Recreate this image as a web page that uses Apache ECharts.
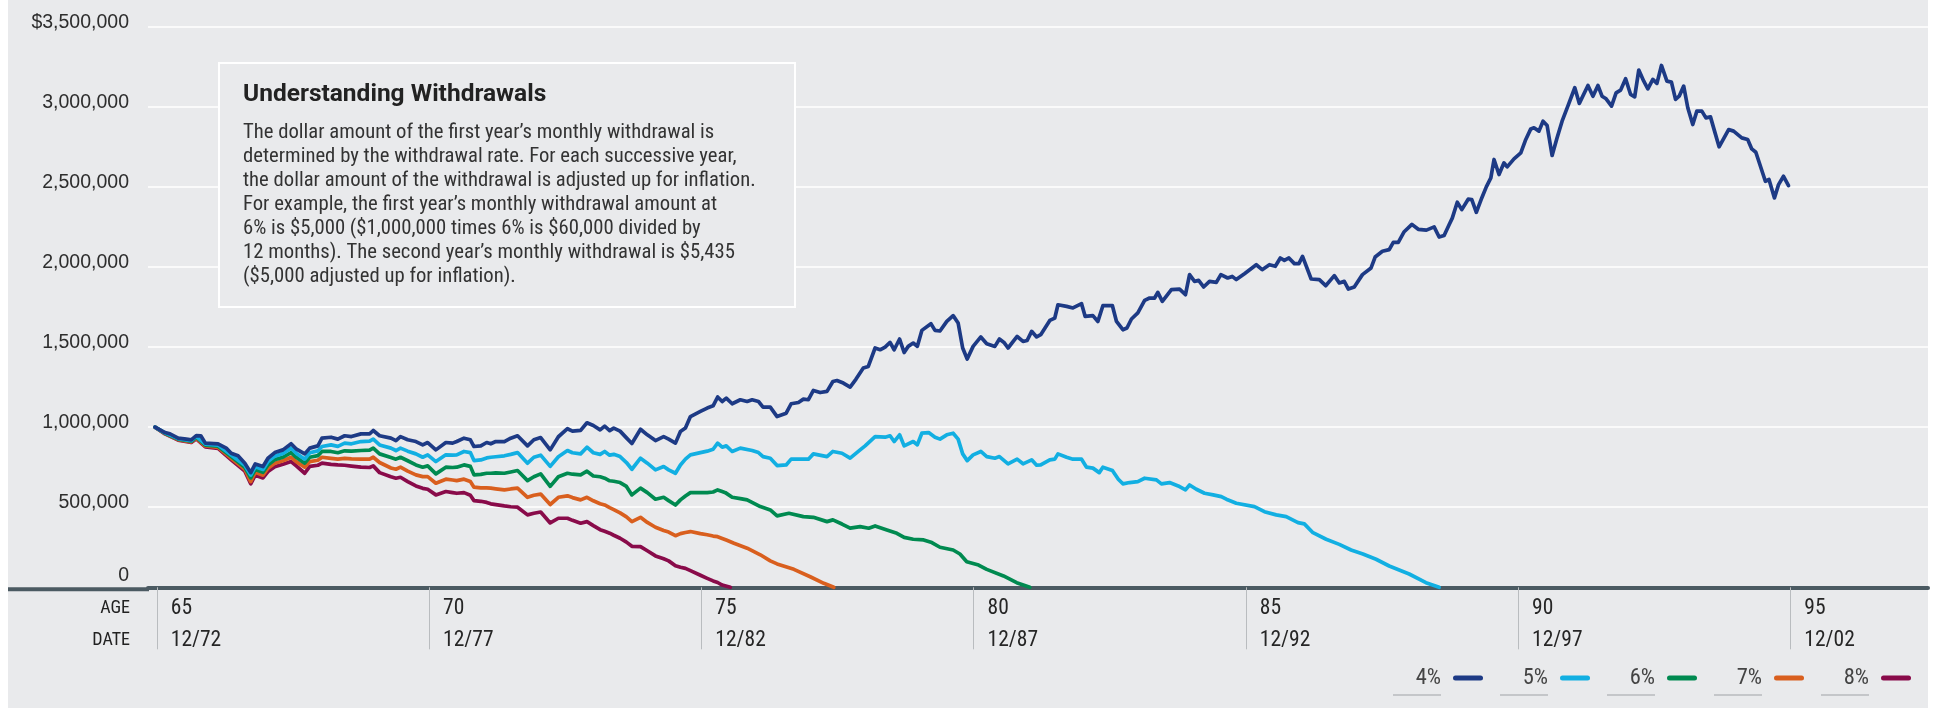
<!DOCTYPE html>
<html>
<head>
<meta charset="utf-8">
<script src="https://cdn.jsdelivr.net/npm/echarts@6.0.0/dist/echarts.min.js"></script>
<style>
html, body { margin: 0; padding: 0; background: #fff; }
#chart {
  width: 1933px; height: 708px;
  background: linear-gradient(to right, #fff 0, #fff 8px, #e9eaec 8px, #e9eaec 1928px, #fff 1928px);
}
</style>
</head>
<body>
<div id="chart"></div>
<script>
// withdrawal rates, drawn 4% .. 8%
const rates = ['4%', '5%', '6%', '7%', '8%'];
const rateColors = ['#1d3a85', '#12afe2', '#008a50', '#d95f1e', '#890b4a'];

// x = months after 12/72, value = portfolio in $ thousands
const s4 = [[0,1000],[2.2,966],[3.3,958],[5.1,931],[6.9,925],[8,920],[9.1,947],[10.1,946],[11.1,900],[13.9,896],[15.7,869],[16.8,837],[18.3,821],[19.8,775],[21.1,716],[22.1,770],[23.8,754],[24.9,806],[26.4,841],[28.2,858],[30,896],[31.2,862],[33,833],[34.1,869],[35.9,883],[36.8,931],[38.8,937],[40.3,925],[41.8,946],[43.3,941],[45.4,958],[47.3,958],[48.1,979],[49.5,946],[52,931],[53.1,916],[54.1,941],[55.7,921],[57.5,910],[59,889],[60.1,904],[61.9,858],[64.1,904],[65.6,900],[66.5,910],[68.1,931],[69.5,921],[70.3,879],[71.8,883],[73.1,904],[74,896],[75.1,910],[77,910],[78.4,931],[79.9,946],[82.1,883],[83.5,921],[85,935],[87.1,858],[88.9,940],[90.9,990],[92,975],[93.8,980],[95.2,1027],[96.6,1010],[98.1,983],[99.1,1006],[100.2,978],[101.1,994],[102.5,975],[103.9,933],[105.1,898],[107,987],[108.5,952],[110.3,916],[112.1,941],[113.2,925],[114.7,900],[115.8,973],[116.9,994],[118,1066],[120.2,1098],[121.7,1119],[123,1133],[124,1188],[125,1160],[125.9,1181],[127.2,1146],[129,1171],[130.5,1160],[131.6,1171],[133,1160],[134,1125],[135.6,1125],[137.1,1066],[139.1,1087],[140.2,1146],[141.8,1154],[142.9,1175],[144,1171],[145.1,1229],[146.6,1216],[148.1,1223],[149.4,1285],[150.3,1291],[151.7,1275],[153.2,1250],[154.5,1300],[156.1,1369],[157.2,1379],[158.7,1494],[159.8,1483],[160.9,1500],[162,1529],[162.9,1483],[164.1,1550],[165.1,1466],[166,1504],[167.1,1525],[168,1504],[169,1604],[171,1646],[171.9,1604],[173,1600],[174.5,1660],[175.9,1696],[177,1650],[178,1494],[179,1425],[180.3,1504],[182,1563],[183.3,1521],[185.1,1504],[186.1,1550],[187.1,1529],[188,1494],[190,1566],[191.3,1535],[192.2,1541],[193.2,1598],[194.3,1563],[195.2,1577],[197.2,1666],[198.3,1681],[199,1764],[200.9,1754],[202.3,1744],[204.2,1771],[205,1691],[206.7,1696],[207.8,1660],[208.9,1758],[211,1758],[211.9,1660],[213.3,1608],[214.2,1619],[215.2,1675],[216.6,1713],[218.1,1791],[219.2,1806],[220.3,1806],[221,1841],[222,1785],[224,1858],[225.8,1862],[227.1,1827],[228,1952],[229.1,1910],[230,1916],[231.1,1875],[232.4,1910],[233.9,1904],[234.9,1952],[236.4,1931],[237.4,1941],[238.3,1921],[240.1,1958],[242.7,2014],[244,1983],[245.6,2014],[246.9,2004],[248,2056],[248.9,2041],[249.9,2056],[251.1,2021],[252.1,2021],[252.9,2066],[254.8,1925],[256.6,1921],[258,1883],[259.9,1946],[261,1900],[262.1,1910],[263,1862],[264.3,1875],[266.1,1952],[268,1994],[268.9,2062],[270.5,2098],[272,2108],[272.9,2154],[274,2154],[275.3,2220],[277,2266],[278.4,2235],[280.2,2230],[281.9,2250],[283,2187],[284.1,2196],[285.2,2264],[285.9,2305],[287,2404],[288,2358],[289.4,2423],[290.2,2421],[291.2,2341],[292.4,2431],[293.4,2500],[294.4,2556],[295.1,2671],[296.2,2577],[297.3,2650],[298,2625],[299.5,2675],[301,2712],[302.1,2796],[303.2,2862],[303.9,2869],[305,2848],[305.9,2910],[306.8,2883],[307.9,2696],[309,2806],[310.1,2910],[311.6,3021],[312.9,3119],[313.9,3021],[315.8,3133],[316.9,3066],[318,3133],[318.9,3066],[319.8,3050],[321,3004],[322,3087],[323,3104],[324.1,3175],[325.2,3077],[326.1,3062],[327,3229],[328.1,3160],[329,3112],[330.1,3171],[331,3146],[332,3258],[333.2,3160],[334.2,3154],[335.1,3046],[335.9,3066],[336.9,3129],[337.8,2994],[338.9,2889],[339.8,2973],[340.9,2973],[341.8,2931],[342.8,2937],[343.7,2848],[344.7,2750],[346.8,2858],[347.9,2848],[349.7,2806],[351,2796],[351.9,2737],[352.8,2716],[354.9,2535],[355.7,2546],[356.9,2431],[357.8,2514],[358.9,2566],[360,2508]];

const s5 = [[0,1000],[2.2,964],[5.1,928],[8,916],[9.1,942],[11.1,894],[13.9,888],[16.8,826],[19.8,762],[21.1,700],[22.1,752],[23.8,736],[24.9,785],[26.4,819],[28.2,835],[30,869],[31.2,836],[33,800],[34.1,840],[35.9,852],[36.8,879],[38.8,889],[40.3,880],[41.8,900],[43.3,896],[45.4,910],[47.3,912],[48.1,925],[49.5,889],[52,869],[53.1,854],[54.1,869],[55.7,850],[57.5,833],[59,812],[60.1,827],[61.9,785],[64.1,827],[65.6,825],[66.5,827],[68.1,848],[69.5,841],[70.3,791],[71.8,795],[73.1,808],[74,812],[75.1,815],[77,821],[78.4,830],[79.9,841],[82.1,775],[83.5,812],[85,825],[87.1,755],[88.9,815],[90.9,854],[92,840],[93.8,833],[95.2,875],[96.6,840],[98.1,830],[99.1,848],[100.2,825],[101.1,830],[102.5,816],[103.9,779],[105.1,737],[107,806],[108.5,775],[110.3,733],[112.1,754],[113.2,733],[114.7,712],[115.8,764],[116.9,800],[118,827],[120.2,841],[121.7,850],[123,862],[124,900],[125,875],[125.9,883],[127.2,848],[129,869],[131.6,854],[133,841],[134,816],[135.6,806],[137.1,760],[139.1,764],[140.2,800],[142.9,800],[144,800],[145.1,833],[148.1,816],[149.4,848],[151.4,837],[153.2,806],[155.4,858],[156.5,883],[158.7,941],[160.9,937],[162,946],[162.9,910],[164.1,952],[165.1,883],[167.1,910],[168,889],[169,962],[170.5,966],[171.9,937],[173,925],[174.5,952],[175.9,962],[177,925],[178,833],[179,791],[180.3,827],[182,848],[183.3,816],[185.1,806],[186.1,816],[188,771],[190,800],[191.3,771],[193.2,796],[194.3,762],[195.2,764],[197.2,796],[198.3,800],[199,833],[200.9,812],[202.3,800],[204.2,800],[205.3,750],[206.7,744],[208.1,716],[208.9,750],[211,729],[212.3,675],[213.3,646],[214.8,654],[216.6,660],[218.1,681],[220.7,671],[221.8,646],[223.6,654],[225.5,633],[227.1,608],[228,639],[229.5,612],[231.3,587],[233.2,577],[235,566],[236.1,550],[238.3,525],[242.3,504],[244.5,472],[247.1,452],[249.3,441],[251.9,404],[253.3,396],[255.2,341],[258.1,300],[261,268],[263.6,233],[266.2,208],[269.1,175],[272,133],[276.4,83],[280.1,29],[283,0]];

const s6 = [[0,1000],[2.2,962],[5.1,925],[8,912],[9.1,937],[11.1,888],[13.9,881],[16.8,816],[19.8,749],[21.1,683],[22.1,735],[23.8,718],[24.9,764],[26.4,797],[28.2,812],[30,841],[31.2,810],[33,775],[34.1,812],[35.9,822],[36.8,848],[38.8,848],[40.3,840],[41.8,852],[43.3,850],[45.4,854],[47.3,856],[48.1,869],[49.5,833],[52,810],[53.1,800],[54.1,812],[55.7,790],[57.5,764],[59,750],[60.1,758],[61.9,708],[64.1,750],[65.6,748],[66.5,750],[68.1,764],[69.5,755],[70.3,702],[71.8,705],[73.1,712],[74,712],[75.1,714],[77,712],[78.4,720],[79.9,729],[82.1,666],[83.5,690],[85,708],[87.1,630],[88.9,690],[90.9,712],[92,706],[93.8,702],[95.2,725],[96.6,695],[98.1,690],[99.1,681],[100.2,665],[101.1,662],[102.5,654],[103.9,630],[105.1,577],[107,619],[108.5,591],[110.3,550],[112.1,562],[113.2,541],[114.7,514],[115.8,546],[116.9,570],[118,591],[120.2,591],[121.7,591],[123,595],[124,608],[125,598],[125.7,591],[127.2,562],[129,554],[130.5,546],[133.4,504],[135.6,483],[137.1,446],[139.7,462],[142.9,441],[145.1,437],[148.1,410],[149.4,421],[151.4,395],[153.2,369],[155.4,379],[157.3,369],[158.7,383],[161.3,358],[163.5,337],[165.1,312],[167.1,300],[169.4,296],[171.2,279],[173,250],[175.9,233],[177.4,208],[178.9,160],[181.5,139],[183.3,112],[187,71],[189.9,29],[192.8,0]];

const s7 = [[0,1000],[2.2,960],[5.1,922],[8,908],[9.1,932],[11.1,882],[13.9,874],[16.8,806],[19.8,737],[21.1,660],[22.1,718],[23.8,700],[24.9,744],[26.4,775],[28.2,790],[30,812],[31.2,783],[33,750],[34.1,785],[35.9,793],[36.8,812],[38.8,805],[40.3,800],[41.8,805],[43.3,802],[45.4,800],[47.3,800],[48.1,812],[49.5,779],[52,745],[53.1,737],[54.1,750],[55.7,725],[57.5,702],[59,691],[60.1,691],[61.9,650],[64.1,675],[65.6,670],[66.5,666],[68.1,675],[69.5,660],[70.3,625],[71.8,621],[73.1,621],[74,619],[75.1,615],[77,608],[78.4,614],[79.9,619],[82.1,562],[83.5,575],[85,582],[87.1,517],[88.9,562],[90.9,571],[92,560],[93.8,546],[95.2,562],[96.6,540],[98.1,522],[99.1,514],[100.2,497],[101.1,485],[102.5,465],[103.9,440],[105.1,410],[107,437],[108.5,405],[110.3,375],[112.1,355],[113.2,345],[114.7,322],[115.8,335],[116.9,342],[118,348],[120.2,335],[121.7,328],[123,320],[124,316],[125,305],[125.9,295],[127.6,275],[130.5,244],[133.4,203],[135.6,165],[137.1,146],[140.8,112],[144.4,66],[147.4,25],[149.6,0]];

const s8 = [[0,1000],[2.2,958],[5.1,919],[8,904],[9.1,927],[11.1,876],[13.9,867],[16.8,796],[19.8,725],[21.1,646],[22.1,700],[23.8,683],[24.9,723],[26.4,753],[28.2,768],[30,785],[31.2,757],[33,712],[34.1,755],[35.9,762],[36.8,775],[38.8,767],[40.3,764],[41.8,762],[43.3,757],[45.4,750],[47.3,748],[48.1,758],[49.5,716],[52,690],[53.1,681],[54.1,687],[55.7,660],[57.5,633],[59,618],[60.1,612],[61.9,577],[64.1,598],[65.6,591],[66.5,587],[68.1,591],[69.5,575],[70.3,541],[71.8,537],[73.1,530],[74,521],[75.1,516],[77,508],[78.4,503],[79.9,500],[82.1,452],[83.5,462],[85,470],[87.1,402],[88.9,431],[90.9,431],[92,418],[93.8,400],[95.2,410],[96.6,385],[98.1,360],[99.1,350],[100.2,338],[101.1,325],[102.5,306],[103.9,282],[105.1,256],[107,254],[108.5,228],[110.3,196],[112.1,178],[113.2,165],[114.7,135],[115.8,125],[116.9,118],[118,104],[120.2,75],[121.7,56],[123,40],[124,30],[125,14],[126.8,0]];

// axis ticks: every 5 years (December of each year)
const tickMonths = [0.4, 60.4, 120.4, 180.4, 240.4, 300.4, 360.4];
const ageLabels = ['65', '70', '75', '80', '85', '90', '95'];
const dateLabels = ['12/72', '12/77', '12/82', '12/87', '12/92', '12/97', '12/02'];

const boxTitle = 'Understanding Withdrawals';
const boxLines = [
  'The dollar amount of the first year\u2019s monthly withdrawal is',
  'determined by the withdrawal rate. For each successive year,',
  'the dollar amount of the withdrawal is adjusted up for inflation.',
  'For example, the first year\u2019s monthly withdrawal amount at',
  '6% is $5,000 ($1,000,000 times 6% is $60,000 divided by',
  '12 months). The second year\u2019s monthly withdrawal is $5,435',
  '($5,000 adjusted up for inflation).'
];

const FONT = '"Liberation Sans", Arial, sans-serif';
const COND = '"Roboto Condensed", "Liberation Sans Narrow", "Liberation Sans", sans-serif';
const allSeries = [s4, s5, s6, s7, s8];

let chart = echarts.init(document.getElementById('chart'), null, { renderer: 'canvas' });

// 8% drawn first so 4% ends up on top
let series = [];
for (let i = rates.length - 1; i >= 0; i--) {
  series.push({
    name: rates[i],
    type: 'line',
    data: allSeries[i].map(p => [p[0], p[1] * 1000]),
    showSymbol: false,
    symbol: 'none',
    clip: false,
    color: rateColors[i],
    lineStyle: { color: rateColors[i], width: 3.7, cap: 'round', join: 'round' }
  });
}

let option = {
  animation: false,
  backgroundColor: 'transparent',
  grid: { left: 148, right: 5, top: 26.7, bottom: 120.7, containLabel: false, outerBoundsMode: 'none' },
  xAxis: {
    type: 'value',
    min: -1.54,
    max: 390.74,
    offset: 2,
    splitLine: { show: false },
    axisLine: { show: true, lineStyle: { color: '#4b5a62', width: 4 } },
    axisTick: { show: true, customValues: tickMonths, length: 62, lineStyle: { color: '#b9bcbf', width: 1 } },
    axisLabel: {
      customValues: tickMonths,
      align: 'left',
      verticalAlign: 'top',
      margin: 3,
      formatter: function (v) {
        let k = tickMonths.findIndex(t => Math.abs(t - v) < 1);
        if (k < 0) return '';
        return '{a|' + ageLabels[k] + '}\n{a|' + dateLabels[k] + '}';
      },
      rich: {
        a: { fontFamily: COND, fontSize: 21.5, color: '#262626', lineHeight: 32, padding: [0, 0, 0, 14] }
      }
    }
  },
  yAxis: {
    type: 'value',
    min: 0,
    max: 3500000,
    interval: 500000,
    axisLine: { show: false },
    axisTick: { show: false },
    splitLine: { lineStyle: { color: '#ffffff', width: 1.5 } },
    axisLabel: {
      margin: 19,
      formatter: function (v) {
        if (v === 0) return '{z|0}';
        return '{n|' + (v === 3500000 ? '$' : '') + v.toLocaleString('en-US') + '}';
      },
      rich: {
        n: { fontFamily: FONT, fontSize: 19.5, color: '#2d2d2d', padding: [0, 0, 9, 0] },
        z: { fontFamily: FONT, fontSize: 19.5, color: '#2d2d2d', padding: [0, 0, 23, 0] }
      }
    }
  },
  legend: {
    data: rates,
    right: 22,
    top: 656,
    padding: 0,
    align: 'right',
    itemGap: 17,
    itemWidth: 30,
    itemHeight: 5,
    icon: 'path://M2.5,0H27.5A2.5,2.5,0,0,1,27.5,5H2.5A2.5,2.5,0,0,1,2.5,0Z',
    selectedMode: false,
    formatter: function (n) {
      return '{s| }\n{t|' + n + '}{g| }\n{u| }{g| }';
    },
    textStyle: {
      rich: {
        s: { width: 1, lineHeight: 14, fontSize: 10 },
        t: { fontFamily: COND, fontSize: 22.5, color: '#444', lineHeight: 20, align: 'right' },
        g: { width: 7, lineHeight: 14, fontSize: 10, align: 'right' },
        u: { width: 48, height: 2, lineHeight: 14, fontSize: 10, backgroundColor: '#c4c6c9', align: 'right' }
      }
    }
  },
  series: series
};

chart.setOption(option);

// decorations: axis extension to the left, row headers, note box
let y0 = chart.convertToPixel({ yAxisIndex: 0 }, 0) + 2;
chart.setOption({
  graphic: [
    { type: 'rect', shape: { x: 8, y: y0 - 2, width: 141, height: 4 }, style: { fill: '#4b5a62' }, z: 5 },
    { type: 'text', x: 130, y: y0 + 19, style: { text: 'AGE', font: '18px ' + COND, fill: '#222', align: 'right', verticalAlign: 'middle' } },
    { type: 'text', x: 130, y: y0 + 51, style: { text: 'DATE', font: '18px ' + COND, fill: '#222', align: 'right', verticalAlign: 'middle' } },
    { type: 'rect', shape: { x: 219, y: 63, width: 576, height: 244 }, style: { fill: '#e9eaec', stroke: '#ffffff', lineWidth: 2 }, z: 10 },
    { type: 'text', x: 243, y: 95, z: 11, style: { text: boxTitle, font: 'bold 24.5px Roboto, ' + FONT, fill: '#222', verticalAlign: 'middle' } },
    { type: 'text', x: 243, y: 121, z: 11, style: { text: boxLines.join('\n'), font: '20.7px ' + COND, lineHeight: 24, fill: '#333', verticalAlign: 'top' } }
  ]
});
</script>
</body>
</html>
